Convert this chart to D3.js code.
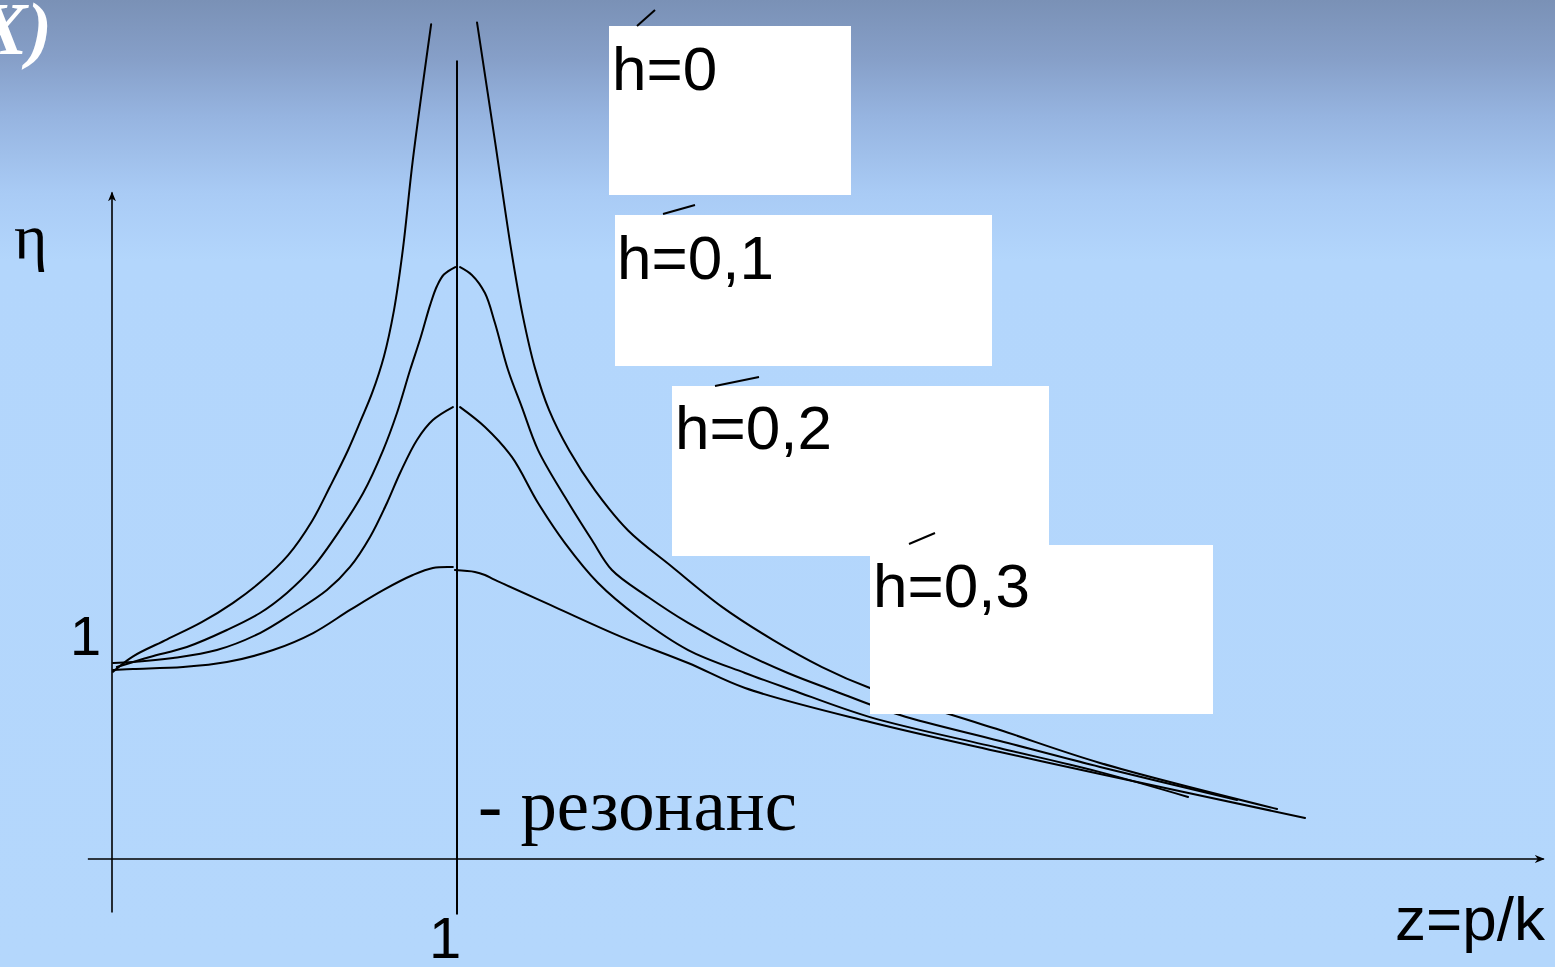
<!DOCTYPE html>
<html>
<head>
<meta charset="utf-8">
<script src="https://cdn.jsdelivr.net/npm/d3@7"></script>
<style>
  html, body { margin: 0; padding: 0; overflow: hidden; }
  svg { display: block; }
</style>
</head>
<body>
<svg id="chart" width="1555" height="967"></svg>
<script>
// Amplification factor η versus frequency ratio z = p/k for several damping values h.
// Each curve is split at the resonance z = 1 into a left and a right branch.

const seriesNames = ["h=0", "h=0,1", "h=0,2", "h=0,3"];

// h = 0 (undamped): both branches run off to infinity near z = 1
const h0LeftZ   = [0.003, 0.06, 0.16, 0.26, 0.35, 0.43, 0.51, 0.58, 0.632, 0.684, 0.722, 0.754, 0.788, 0.817, 0.843, 0.872, 0.925];
const h0LeftEta = [0.98, 1.06, 1.15, 1.24, 1.34, 1.45, 1.59, 1.77, 1.95, 2.14, 2.30, 2.44, 2.63, 2.87, 3.19, 3.66, 4.37];
const h0RightZ   = [1.058, 1.11, 1.157, 1.19, 1.226, 1.267, 1.325, 1.40, 1.496, 1.623, 1.768, 1.913, 2.058, 2.197, 2.574, 2.864, 3.377];
const h0RightEta = [4.38, 3.76, 3.19, 2.85, 2.57, 2.35, 2.14, 1.93, 1.72, 1.53, 1.32, 1.15, 1.005, 0.895, 0.675, 0.503, 0.262];

// h = 0,1
const h1LeftZ   = [0.014, 0.11, 0.217, 0.333, 0.429, 0.507, 0.583, 0.661, 0.728, 0.786, 0.826, 0.864, 0.895, 0.922, 0.942, 0.962, 0.995];
const h1LeftEta = [1.005, 1.058, 1.11, 1.199, 1.288, 1.393, 1.529, 1.723, 1.916, 2.141, 2.335, 2.56, 2.733, 2.90, 3.00, 3.06, 3.099];
const h1RightZ   = [1.009, 1.043, 1.081, 1.11, 1.148, 1.188, 1.235, 1.313, 1.391, 1.449, 1.554, 1.67, 1.814, 1.959, 2.087, 2.284, 2.574, 2.864, 3.261];
const h1RightEta = [3.099, 3.058, 2.963, 2.806, 2.56, 2.366, 2.141, 1.895, 1.67, 1.513, 1.372, 1.236, 1.094, 0.974, 0.885, 0.754, 0.618, 0.482, 0.309];

// h = 0,2
const h2LeftZ   = [0.003, 0.061, 0.177, 0.304, 0.429, 0.525, 0.623, 0.69, 0.748, 0.797, 0.835, 0.884, 0.93, 0.988];
const h2LeftEta = [1.026, 1.031, 1.052, 1.094, 1.183, 1.288, 1.408, 1.529, 1.686, 1.864, 2.021, 2.194, 2.298, 2.366];
const h2RightZ   = [1.009, 1.081, 1.159, 1.235, 1.313, 1.409, 1.525, 1.67, 1.835, 1.971, 2.197, 2.574, 2.864, 3.119];
const h2RightEta = [2.366, 2.262, 2.105, 1.864, 1.654, 1.445, 1.267, 1.094, 0.974, 0.885, 0.743, 0.58, 0.455, 0.325];

// h = 0,3
const h3LeftZ   = [0.003, 0.061, 0.206, 0.333, 0.467, 0.583, 0.69, 0.786, 0.872, 0.93, 0.988];
const h3LeftEta = [0.99, 0.995, 1.005, 1.031, 1.094, 1.183, 1.304, 1.408, 1.487, 1.524, 1.529];
const h3RightZ   = [0.994, 1.052, 1.081, 1.11, 1.284, 1.478, 1.67, 1.835, 2.197, 2.574, 2.864, 3.458];
const h3RightEta = [1.513, 1.503, 1.487, 1.461, 1.319, 1.162, 1.026, 0.895, 0.717, 0.56, 0.445, 0.215];

const zTickValues = [1];
const zTickLabels = ["1"];
const etaTickValues = [1];
const etaTickLabels = ["1"];

// ---- layout ----
const W = 1555, H = 967;
const x = d3.scaleLinear().domain([0, 1]).range([112, 457]);
const y = d3.scaleLinear().domain([0, 1]).range([859, 668]);

const svg = d3.select("#chart");
const defs = svg.append("defs");

const grad = defs.append("linearGradient")
  .attr("id", "bg").attr("x1", 0).attr("y1", 0).attr("x2", 0).attr("y2", 1);
[[0, "#7a91b6"], [0.06, "#869fc8"], [0.12, "#96b4e0"], [0.2, "#a9cbf5"], [0.27, "#b3d6fc"], [1, "#b4d7fc"]]
  .forEach(([o, c]) => grad.append("stop").attr("offset", o).attr("stop-color", c));

defs.append("marker")
  .attr("id", "arrow").attr("viewBox", "0 0 10 10")
  .attr("refX", 9).attr("refY", 5)
  .attr("markerWidth", 10).attr("markerHeight", 10)
  .attr("markerUnits", "userSpaceOnUse")
  .attr("orient", "auto")
  .append("path").attr("d", "M0,1 L10,5 L0,9 L3,5 Z").attr("fill", "#000");

svg.append("rect").attr("width", W).attr("height", H).attr("fill", "url(#bg)");

// slide title fragment, clipped by the left edge
svg.append("text")
  .attr("x", 52).attr("y", 54)
  .attr("text-anchor", "end")
  .attr("font-family", "'Liberation Serif', 'DejaVu Serif', serif")
  .attr("font-style", "italic").attr("font-weight", "bold")
  .attr("font-size", 74).attr("fill", "#fff")
  .text("(X)");

// axes
const axes = svg.append("g").attr("stroke", "#000").attr("fill", "none");
axes.append("line")
  .attr("x1", x(-0.07)).attr("y1", y(0)).attr("x2", x(4.15)).attr("y2", y(0))
  .attr("stroke-width", 1.6).attr("marker-end", "url(#arrow)");
axes.append("line")
  .attr("x1", x(0)).attr("y1", y(-0.28)).attr("x2", x(0)).attr("y2", y(3.49))
  .attr("stroke-width", 1.6).attr("marker-end", "url(#arrow)");
// resonance line z = 1
axes.append("line")
  .attr("x1", x(1)).attr("y1", y(-0.29)).attr("x2", x(1)).attr("y2", y(4.18))
  .attr("stroke-width", 2);

// curves
const line = d3.line()
  .x(d => x(d[0])).y(d => y(d[1]))
  .curve(d3.curveCatmullRom.alpha(0.5));

const branches = [
  [h0LeftZ, h0LeftEta], [h0RightZ, h0RightEta],
  [h1LeftZ, h1LeftEta], [h1RightZ, h1RightEta],
  [h2LeftZ, h2LeftEta], [h2RightZ, h2RightEta],
  [h3LeftZ, h3LeftEta], [h3RightZ, h3RightEta]
].map(([zs, es]) => zs.map((z, i) => [z, es[i]]));

svg.append("g")
  .selectAll("path").data(branches).join("path")
  .attr("d", line)
  .attr("fill", "none").attr("stroke", "#000").attr("stroke-width", 2)
  .attr("stroke-linejoin", "round").attr("stroke-linecap", "round");

// tick labels
const sans = "'Liberation Sans', Arial, sans-serif";
svg.append("g").selectAll("text").data(zTickValues).join("text")
  .attr("x", d => x(d) - 28).attr("y", y(0) + 99)
  .attr("font-family", sans).attr("font-size", 58)
  .text((d, i) => zTickLabels[i]);
svg.append("g").selectAll("text").data(etaTickValues).join("text")
  .attr("x", x(0) - 42).attr("y", d => y(d) - 13)
  .attr("font-family", sans).attr("font-size", 56)
  .text((d, i) => etaTickLabels[i]);

// axis titles
svg.append("text")
  .attr("x", 14).attr("y", 258)
  .attr("font-family", "'Liberation Serif', 'DejaVu Serif', serif")
  .attr("font-size", 64)
  .text("η");
svg.append("text")
  .attr("x", 1395).attr("y", 940)
  .attr("font-family", sans).attr("font-size", 62)
  .text("z=p/k");

svg.append("text")
  .attr("x", 478).attr("y", 830)
  .attr("font-family", "'Liberation Serif', 'Times New Roman', serif")
  .attr("font-size", 74)
  .attr("textLength", 319).attr("lengthAdjust", "spacingAndGlyphs")
  .text("- резонанс");

// label boxes with short leader strokes
const labelBoxes = [
  { x: 609, y: 26,  w: 242, h: 169, tx: 612, ty: 90,  l: [637, 26, 655, 10] },
  { x: 615, y: 215, w: 377, h: 151, tx: 617, ty: 279, l: [663, 214, 695, 205] },
  { x: 672, y: 386, w: 377, h: 170, tx: 675, ty: 449, l: [715, 386, 759, 377] },
  { x: 870, y: 545, w: 343, h: 169, tx: 873, ty: 607, l: [909, 544, 935, 533] }
];
const lab = svg.append("g");
labelBoxes.forEach((b, i) => {
  lab.append("rect").attr("x", b.x).attr("y", b.y).attr("width", b.w).attr("height", b.h).attr("fill", "#fff");
  lab.append("line").attr("x1", b.l[0]).attr("y1", b.l[1]).attr("x2", b.l[2]).attr("y2", b.l[3])
    .attr("stroke", "#000").attr("stroke-width", 2);
  lab.append("text").attr("x", b.tx).attr("y", b.ty)
    .attr("font-family", sans).attr("font-size", 62)
    .text(seriesNames[i]);
});
</script>
</body>
</html>
